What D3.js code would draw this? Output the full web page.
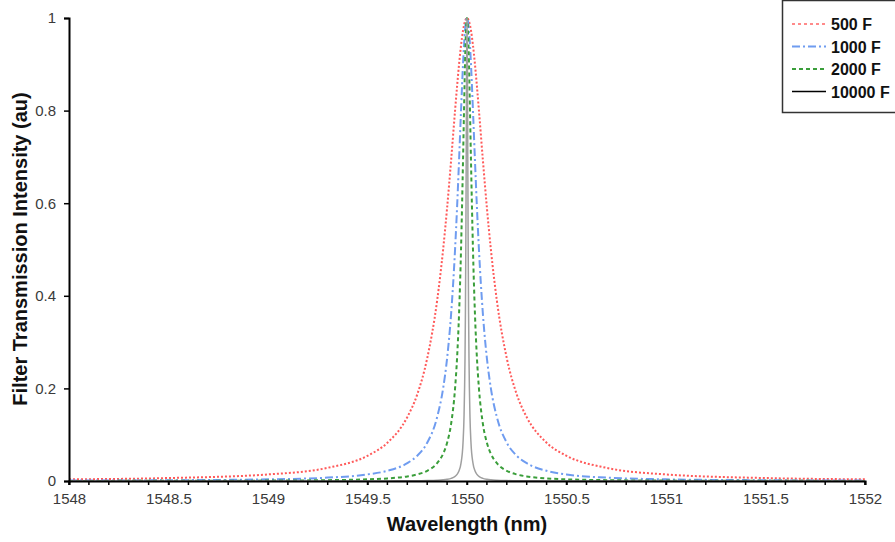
<!DOCTYPE html>
<html>
<head>
<meta charset="utf-8">
<script src="https://cdn.jsdelivr.net/npm/d3@7"></script>
<style>
  html, body { margin: 0; padding: 0; background: #fff; }
  svg { display: block; font-family: "Liberation Sans", Arial, sans-serif; }
</style>
</head>
<body>
<svg id="chart" width="895" height="542"></svg>
<script>
// Sample wavelengths (nm), denser near the 1550 nm resonance
const wavelength = [
  1548, 1548.5, 1549, 1549.3, 1549.5, 1549.6, 1549.7, 1549.75, 1549.8, 1549.85,
  1549.88, 1549.9, 1549.92, 1549.94, 1549.95, 1549.96, 1549.97, 1549.98, 1549.985,
  1549.99, 1549.992, 1549.994, 1549.996, 1549.998, 1550,
  1550.002, 1550.004, 1550.006, 1550.008, 1550.01, 1550.015, 1550.02, 1550.03,
  1550.04, 1550.05, 1550.06, 1550.08, 1550.1, 1550.12, 1550.15, 1550.2, 1550.25,
  1550.3, 1550.4, 1550.5, 1550.7, 1551, 1551.5, 1552
];

// Transmission for each finesse value, one entry per wavelength
const t500 = [
  0.0036, 0.0064, 0.0142, 0.0285, 0.0545, 0.0826, 0.138, 0.187, 0.265, 0.390,
  0.500, 0.590, 0.692, 0.800, 0.852, 0.900, 0.941, 0.973, 0.9846,
  0.9931, 0.9956, 0.9975, 0.9989, 0.9997, 1,
  0.9997, 0.9989, 0.9975, 0.9956, 0.9931, 0.9846, 0.973, 0.941,
  0.900, 0.852, 0.800, 0.692, 0.590, 0.500, 0.390, 0.265, 0.187,
  0.138, 0.0826, 0.0545, 0.0285, 0.0142, 0.0064, 0.0036
];
const t1000 = [
  0.0009, 0.0016, 0.0036, 0.0073, 0.0142, 0.022, 0.0385, 0.0545, 0.0826, 0.138,
  0.200, 0.265, 0.360, 0.500, 0.590, 0.692, 0.800, 0.900, 0.941,
  0.973, 0.9825, 0.990, 0.9956, 0.9989, 1,
  0.9989, 0.9956, 0.990, 0.9825, 0.973, 0.941, 0.900, 0.800,
  0.692, 0.590, 0.500, 0.360, 0.265, 0.200, 0.138, 0.0826, 0.0545,
  0.0385, 0.022, 0.0142, 0.0073, 0.0036, 0.0016, 0.0009
];
const t2000 = [
  0.0002, 0.0004, 0.0009, 0.0018, 0.0036, 0.0056, 0.0099, 0.0142, 0.022, 0.0385,
  0.0588, 0.0826, 0.123, 0.200, 0.265, 0.360, 0.500, 0.692, 0.800,
  0.900, 0.9336, 0.9615, 0.9825, 0.9956, 1,
  0.9956, 0.9825, 0.9615, 0.9336, 0.900, 0.800, 0.692, 0.500,
  0.360, 0.265, 0.200, 0.123, 0.0826, 0.0588, 0.0385, 0.022, 0.0142,
  0.0099, 0.0056, 0.0036, 0.0018, 0.0009, 0.0004, 0.0002
];
const t10000 = [
  0, 0, 0, 0.0001, 0.0001, 0.0002, 0.0004, 0.0006, 0.0009, 0.0016,
  0.0025, 0.0036, 0.0056, 0.0099, 0.0142, 0.022, 0.0385, 0.0826, 0.138,
  0.265, 0.360, 0.500, 0.692, 0.900, 1,
  0.900, 0.692, 0.500, 0.360, 0.265, 0.138, 0.0826, 0.0385,
  0.022, 0.0142, 0.0099, 0.0056, 0.0036, 0.0025, 0.0016, 0.0009, 0.0006,
  0.0004, 0.0002, 0.0001, 0.0001, 0, 0, 0
];

const seriesNames = ["500 F", "1000 F", "2000 F", "10000 F"];
const xTicks = [1548, 1548.5, 1549, 1549.5, 1550, 1550.5, 1551, 1551.5, 1552];
const yTicks = [0, 0.2, 0.4, 0.6, 0.8, 1];

const styles = [
  { values: t500,   color: "#ff5a5a", width: 2, dash: "2,2" },
  { values: t1000,  color: "#6f9cf0", width: 2, dash: "8,3,2,3" },
  { values: t2000,  color: "#3a9e3a", width: 2, dash: "4,3" },
  { values: t10000, color: "#a0a0a0", width: 1.5, dash: null }
];
const legendStyles = [
  { color: "#ff8a8a", dash: "3,3", width: 2 },
  { color: "#6f9cf0", dash: "8,3,2,3", width: 2 },
  { color: "#3a9e3a", dash: "4,3", width: 2 },
  { color: "#000000", dash: null, width: 1.3 }
];

const svg = d3.select("#chart");
const x = d3.scaleLinear().domain([1548, 1552]).range([69, 865]);
const y = d3.scaleLinear().domain([0, 1]).range([481, 18]);

// Curves
const line = d3.line()
  .x((d, i) => x(wavelength[i]))
  .y(d => y(d))
  .curve(d3.curveMonotoneX);

const plot = svg.append("g");
styles.forEach(s => {
  plot.append("path")
    .datum(s.values)
    .attr("d", line)
    .attr("fill", "none")
    .attr("stroke", s.color)
    .attr("stroke-width", s.width)
    .attr("stroke-dasharray", s.dash)
    .attr("stroke-linejoin", "round");
});

// Axes
const xAxis = svg.append("g").attr("transform", `translate(0,${y(0)})`)
  .call(d3.axisBottom(x).tickValues(xTicks).tickFormat(d3.format("")).tickSize(4).tickPadding(8));
xAxis.append("g")
  .selectAll("line")
  .data(d3.range(0, 41).map(i => 1548 + i * 0.1))
  .join("line")
  .attr("x1", d => x(d)).attr("x2", d => x(d))
  .attr("y1", 0).attr("y2", 4)
  .attr("stroke", "#000").attr("stroke-width", 1.5);

const yAxis = svg.append("g").attr("transform", `translate(${x(1548)},0)`)
  .call(d3.axisLeft(y).tickValues(yTicks).tickFormat(d => d === 0 || d === 1 ? d3.format("d")(d) : d3.format(".1f")(d)).tickSize(5).tickPadding(8));

[xAxis, yAxis].forEach(a => {
  a.select(".domain").attr("stroke", "#000").attr("stroke-width", 2);
  a.selectAll(".tick line").attr("stroke", "#000").attr("stroke-width", 1.5);
  a.selectAll(".tick text")
    .attr("fill", "#3a3a3a")
    .style("font-size", "15px")
    .style("font-family", "'Liberation Sans', Arial, sans-serif");
});

// Axis titles
svg.append("text")
  .attr("x", 467).attr("y", 531)
  .attr("text-anchor", "middle")
  .style("font-size", "20px").style("font-weight", "bold")
  .attr("fill", "#111")
  .text("Wavelength (nm)");

svg.append("text")
  .attr("transform", "translate(27,249) rotate(-90)")
  .attr("text-anchor", "middle")
  .style("font-size", "20px").style("font-weight", "bold")
  .attr("fill", "#111")
  .text("Filter Transmission Intensity (au)");

// Legend
const legend = svg.append("g");
legend.append("rect")
  .attr("x", 782.5).attr("y", 0.5).attr("width", 120).attr("height", 112)
  .attr("fill", "#fff").attr("stroke", "#333").attr("stroke-width", 1.5);
seriesNames.forEach((name, i) => {
  const cy = 24 + i * 22.5;
  const ls = legendStyles[i];
  legend.append("line")
    .attr("x1", 792).attr("x2", 826).attr("y1", cy).attr("y2", cy)
    .attr("stroke", ls.color).attr("stroke-width", ls.width)
    .attr("stroke-dasharray", ls.dash);
  legend.append("text")
    .attr("x", 831).attr("y", cy + 6)
    .style("font-size", "16px").style("font-weight", "bold")
    .attr("fill", "#111")
    .text(name);
});
</script>
</body>
</html>
